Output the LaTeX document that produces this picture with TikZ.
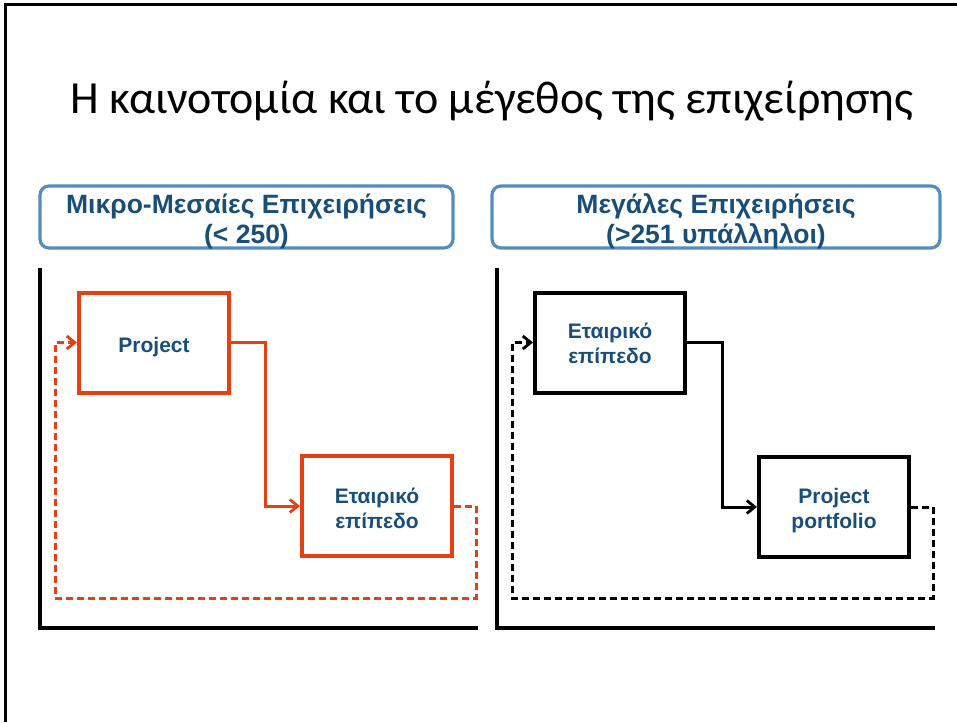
\documentclass[tikz,border=0pt]{standalone}
\usepackage{fontspec}
\setmainfont{Liberation Sans}
\newfontfamily\titlefont{Carlito}
\usetikzlibrary{arrows.meta}
\definecolor{orng}{RGB}{228,64,20}
\definecolor{hdrline}{RGB}{84,140,190}
\definecolor{txtblue}{RGB}{24,78,120}
\tikzset{
  hdrbox/.style={draw=hdrline, line width=3.2pt, rounded corners=9pt, fill=white, inner sep=0pt},
  hdrtext/.style={text=txtblue, font=\fontsize{26.5}{30}\selectfont\bfseries, anchor=base, inner sep=0pt},
  obox/.style={draw=orng, line width=4pt, minimum width=150pt, minimum height=100pt, inner sep=0pt},
  kbox/.style={draw=black, line width=4pt, minimum width=150pt, minimum height=100pt, inner sep=0pt},
  boxtext/.style={text=txtblue, font=\fontsize{21}{25}\selectfont\bfseries, anchor=base, inner sep=0pt},
  axisline/.style={draw=black, line width=3.5pt},
  oflow/.style={draw=orng, line width=3pt, -{Straight Barb[length=8pt,width=13pt,line width=2.8pt]}},
  kflow/.style={draw=black, line width=3pt, -{Straight Barb[length=8pt,width=13pt,line width=2.8pt]}},
  dsh/.style={dash pattern=on 7pt off 4pt}
}
\begin{document}
\begin{tikzpicture}[x=1pt,y=-1pt]
\useasboundingbox (0,0) rectangle (957,722);
% slide frame
\draw[line width=3pt] (957,5) -- (5,5) -- (5,722);
% title
\node[font=\titlefont\fontsize{46}{52}\selectfont, anchor=base] (title) at (492,114) {Η καινοτομία και το μέγεθος της επιχείρησης};
% headers
\node[hdrbox, minimum width=413pt, minimum height=62pt] (h1) at (246.5,217) {};
\node[hdrtext] (h1t) at (246.5,213) {Μικρο-Μεσαίες Επιχειρήσεις};
\node[hdrtext] (h1u) at (246.5,243.5) {(< 250)};
\node[hdrbox, minimum width=448pt, minimum height=62pt] (h2) at (716,217) {};
\node[hdrtext] (h2t) at (716,213) {Μεγάλες Επιχειρήσεις};
\node[hdrtext] (h2u) at (716,243.5) {(>251 υπάλληλοι)};
% axes
\coordinate (a1t) at (40,268); \coordinate (a1o) at (40,628); \coordinate (a1r) at (478,628);
\coordinate (a2t) at (497,268); \coordinate (a2o) at (497,628); \coordinate (a2r) at (935,628);
\draw[axisline] (a1t) -- (a1o) -- (a1r);
\draw[axisline] (a2t) -- (a2o) -- (a2r);
% left diagram
\node[obox] (p1) at (154,342.5) {};
\node[boxtext] (p1t) at ([yshift=-9.5pt]p1.center) {Project};
\node[obox] (e1) at (377,506) {};
\node[boxtext] (e1a) at ([yshift=3pt]e1.center) {Εταιρικό};
\node[boxtext] (e1b) at ([yshift=-22pt]e1.center) {επίπεδο};
\draw[oflow] (p1.east) -| (265,506) -- (e1.west);
\draw[oflow, dsh] (e1.east) -| (476,598) -| (55,342.5) -- (p1.west);
% right diagram
\node[kbox] (e2) at (610,342.5) {};
\node[boxtext] (e2a) at ([yshift=4pt]e2.center) {Εταιρικό};
\node[boxtext] (e2b) at ([yshift=-21pt]e2.center) {επίπεδο};
\node[kbox] (p2) at (834,507) {};
\node[boxtext] (p2a) at ([yshift=4pt]p2.center) {Project};
\node[boxtext] (p2b) at ([yshift=-21pt]p2.center) {portfolio};
\draw[kflow] (e2.east) -| (722,507) -- (p2.west);
\draw[kflow, dsh] (p2.east) -| (933,598) -| (512,342.5) -- (e2.west);
\end{tikzpicture}
\end{document}
